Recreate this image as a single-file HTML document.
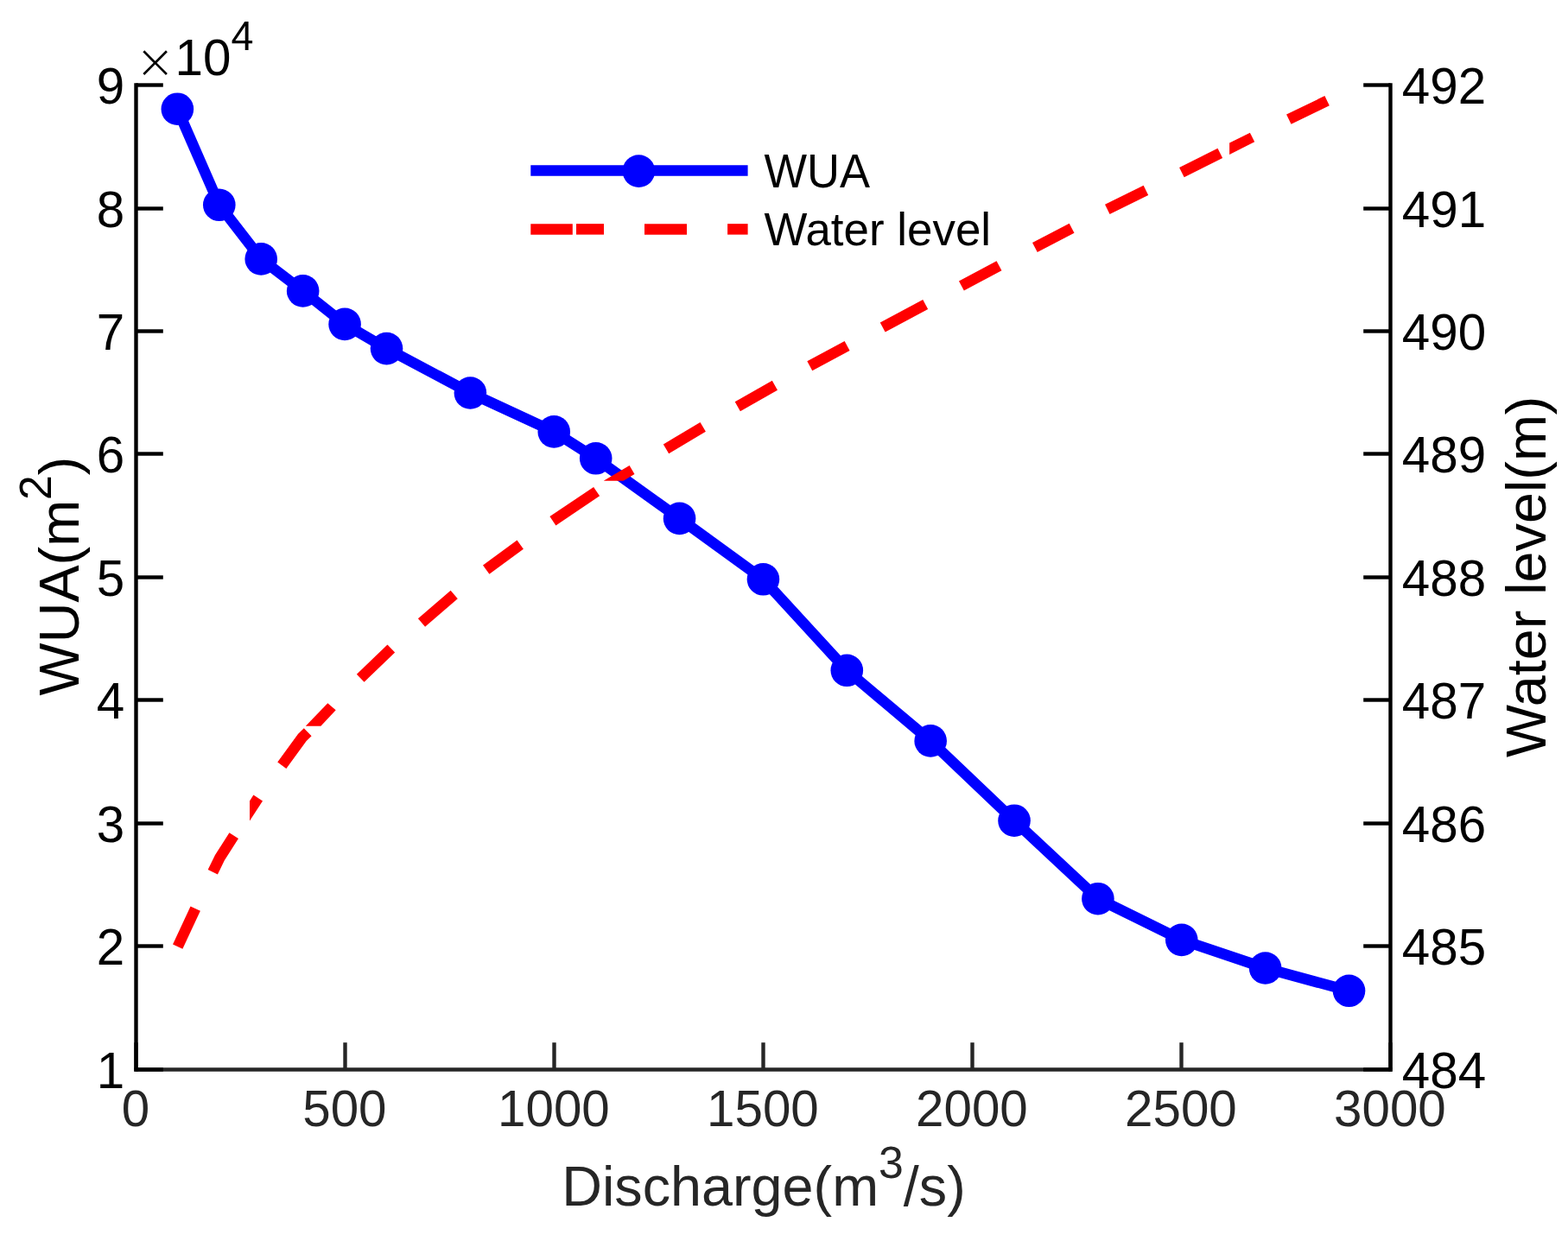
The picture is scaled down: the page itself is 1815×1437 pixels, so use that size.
<!DOCTYPE html>
<html lang="en"><head><meta charset="utf-8"><title>WUA and water level vs discharge</title>
<style>html,body{margin:0;padding:0;background:#fff;}body{width:1815px;height:1437px;overflow:hidden;}svg{display:block;}text{font-family:"Liberation Sans",sans-serif;}</style></head><body>
<svg width="1815" height="1437" viewBox="0 0 1815 1437">
<rect width="1815" height="1437" fill="#fff"/>
<g stroke="#262626" stroke-width="4.4" fill="none">
<line x1="155.30" y1="1238.5" x2="1611.70" y2="1238.5"/>
<line x1="157.50" y1="1238.5" x2="157.50" y2="1207.20"/>
<line x1="399.50" y1="1238.5" x2="399.50" y2="1207.20"/>
<line x1="641.50" y1="1238.5" x2="641.50" y2="1207.20"/>
<line x1="883.50" y1="1238.5" x2="883.50" y2="1207.20"/>
<line x1="1125.50" y1="1238.5" x2="1125.50" y2="1207.20"/>
<line x1="1367.50" y1="1238.5" x2="1367.50" y2="1207.20"/>
<line x1="1609.50" y1="1238.5" x2="1609.50" y2="1207.20"/>
</g>
<g font-size="58.33" fill="#262626" text-anchor="middle">
<text x="156.90" y="1304.3">0</text>
<text x="398.90" y="1304.3">500</text>
<text x="640.90" y="1304.3">1000</text>
<text x="882.90" y="1304.3">1500</text>
<text x="1124.90" y="1304.3">2000</text>
<text x="1366.90" y="1304.3">2500</text>
<text x="1608.90" y="1304.3">3000</text>
</g>
<g stroke="#000" stroke-width="4.4" fill="none">
<line x1="157.5" y1="1240.70" x2="157.5" y2="96.30"/>
<line x1="1609.5" y1="1240.70" x2="1609.5" y2="96.30"/>
<line x1="157.5" y1="1238.50" x2="188.80" y2="1238.50"/>
<line x1="1609.5" y1="1238.50" x2="1578.20" y2="1238.50"/>
<line x1="157.5" y1="1095.50" x2="188.80" y2="1095.50"/>
<line x1="1609.5" y1="1095.50" x2="1578.20" y2="1095.50"/>
<line x1="157.5" y1="953.50" x2="188.80" y2="953.50"/>
<line x1="1609.5" y1="953.50" x2="1578.20" y2="953.50"/>
<line x1="157.5" y1="810.50" x2="188.80" y2="810.50"/>
<line x1="1609.5" y1="810.50" x2="1578.20" y2="810.50"/>
<line x1="157.5" y1="668.50" x2="188.80" y2="668.50"/>
<line x1="1609.5" y1="668.50" x2="1578.20" y2="668.50"/>
<line x1="157.5" y1="525.50" x2="188.80" y2="525.50"/>
<line x1="1609.5" y1="525.50" x2="1578.20" y2="525.50"/>
<line x1="157.5" y1="383.50" x2="188.80" y2="383.50"/>
<line x1="1609.5" y1="383.50" x2="1578.20" y2="383.50"/>
<line x1="157.5" y1="241.50" x2="188.80" y2="241.50"/>
<line x1="1609.5" y1="241.50" x2="1578.20" y2="241.50"/>
<line x1="157.5" y1="98.50" x2="188.80" y2="98.50"/>
<line x1="1609.5" y1="98.50" x2="1578.20" y2="98.50"/>
</g>
<g font-size="58.33" fill="#000">
<text x="144.3" y="1259.80" text-anchor="end">1</text>
<text x="1622.8" y="1259.80">484</text>
<text x="144.3" y="1116.80" text-anchor="end">2</text>
<text x="1622.8" y="1116.80">485</text>
<text x="144.3" y="974.80" text-anchor="end">3</text>
<text x="1622.8" y="974.80">486</text>
<text x="144.3" y="831.80" text-anchor="end">4</text>
<text x="1622.8" y="831.80">487</text>
<text x="144.3" y="689.80" text-anchor="end">5</text>
<text x="1622.8" y="689.80">488</text>
<text x="144.3" y="546.80" text-anchor="end">6</text>
<text x="1622.8" y="546.80">489</text>
<text x="144.3" y="404.80" text-anchor="end">7</text>
<text x="1622.8" y="404.80">490</text>
<text x="144.3" y="262.80" text-anchor="end">8</text>
<text x="1622.8" y="262.80">491</text>
<text x="144.3" y="119.80" text-anchor="end">9</text>
<text x="1622.8" y="119.80">492</text>
</g>
<text x="156.4" y="89.9" font-size="55.2" fill="#000" style="font-family:'DejaVu Sans Light','DejaVu Sans','Liberation Sans',sans-serif;font-weight:200">×</text>
<text x="202.5" y="87.0" font-size="58.33" fill="#000">10</text>
<text transform="translate(267.4,58.1) scale(1,1.05)" font-size="46.66" fill="#000">4</text>
<polyline points="205.35,126.20 253.79,237.30 302.22,299.90 350.66,336.90 399.09,375.40 447.52,403.60 544.39,455.00 641.26,499.90 689.69,530.80 786.56,600.40 883.43,670.80 980.30,776.30 1077.17,857.90 1174.03,950.20 1270.90,1040.70 1367.77,1088.40 1464.64,1121.00 1561.51,1147.30" fill="none" stroke="#0000ff" stroke-width="12.5" stroke-linejoin="round"/>
<g fill="#0000ff">
<circle cx="205.35" cy="126.20" r="18.8"/>
<circle cx="253.79" cy="237.30" r="18.8"/>
<circle cx="302.22" cy="299.90" r="18.8"/>
<circle cx="350.66" cy="336.90" r="18.8"/>
<circle cx="399.09" cy="375.40" r="18.8"/>
<circle cx="447.52" cy="403.60" r="18.8"/>
<circle cx="544.39" cy="455.00" r="18.8"/>
<circle cx="641.26" cy="499.90" r="18.8"/>
<circle cx="689.69" cy="530.80" r="18.8"/>
<circle cx="786.56" cy="600.40" r="18.8"/>
<circle cx="883.43" cy="670.80" r="18.8"/>
<circle cx="980.30" cy="776.30" r="18.8"/>
<circle cx="1077.17" cy="857.90" r="18.8"/>
<circle cx="1174.03" cy="950.20" r="18.8"/>
<circle cx="1270.90" cy="1040.70" r="18.8"/>
<circle cx="1367.77" cy="1088.40" r="18.8"/>
<circle cx="1464.64" cy="1121.00" r="18.8"/>
<circle cx="1561.51" cy="1147.30" r="18.8"/>
</g>
<g fill="none" stroke="#ff0000" stroke-width="12.5" stroke-linejoin="round">
<polyline points="205.7,1096.2 226.2,1052.2"/>
<polyline points="246.3,1009.7 254.6,992.8 270.7,967.7"/>
<polyline points="326.3,886.2 349.8,854.0 356.2,847.7"/>
<polyline points="417.2,785.2 452.8,751.0"/>
<polyline points="488.0,721.0 525.7,688.6"/>
<polyline points="562.7,659.6 602.2,630.6"/>
<polyline points="639.9,603.3 690.6,569.1"/>
<polyline points="771.0,519.8 813.7,494.4"/>
<polyline points="853.8,470.8 896.9,446.2"/>
<polyline points="937.3,423.8 980.6,400.5"/>
<polyline points="1021.7,378.9 1071.2,352.4"/>
<polyline points="1112.9,331.0 1156.5,307.7"/>
<polyline points="1197.9,286.5 1240.6,264.3"/>
<polyline points="1281.8,242.4 1326.4,220.4"/>
<polyline points="1367.9,199.6 1412.3,177.3"/>
<polyline points="1491.8,138.1 1536.1,116.7"/>
</g>
<g fill="#ff0000">
<polygon points="289.0,927.6 293.4,920.5 304.0,927.6 289.0,950.5"/>
<polygon points="353.8,840.8 379.3,814.3 388.7,822.3 371.4,840.8"/>
<polygon points="698.7,556.7 728.6,539.1 734.5,549.0 721.6,556.7"/>
<polygon points="1423.1,165.5 1446.9,153.7 1452.2,164.3 1423.1,178.9"/>
</g>
<line x1="614.3" y1="197.5" x2="865.6" y2="197.5" stroke="#0000ff" stroke-width="12.5"/>
<circle cx="739.4" cy="198.1" r="18.8" fill="#0000ff"/>
<g stroke="#ff0000" stroke-width="12.5">
<line x1="614.3" y1="265.4" x2="662.8" y2="265.4"/>
<line x1="667.0" y1="265.4" x2="699.0" y2="265.4"/>
<line x1="746.0" y1="265.4" x2="795.0" y2="265.4"/>
<line x1="842.1" y1="265.4" x2="865.6" y2="265.4"/>
</g>
<g font-size="52.9" fill="#000">
<text transform="translate(884.5,217.1) scale(1,1.04)" font-size="52.5">WUA</text>
<text x="884.5" y="284.4">Water level</text>
</g>
<text x="884.0" y="1395.6" font-size="64.72" fill="#262626" text-anchor="middle">Discharge(m<tspan dy="-32.1" font-size="51.78">3</tspan><tspan dy="32.1" font-size="64.72">/s)</tspan></text>
<text transform="translate(91.4,667.0) rotate(-90)" font-size="64.72" fill="#000" text-anchor="middle">WUA(m<tspan dy="-32.1" font-size="51.78">2</tspan><tspan dy="32.1" font-size="64.72">)</tspan></text>
<text transform="translate(1789.1,667.8) rotate(-90)" font-size="64.72" fill="#000" text-anchor="middle">Water level(m)</text>
</svg></body></html>
